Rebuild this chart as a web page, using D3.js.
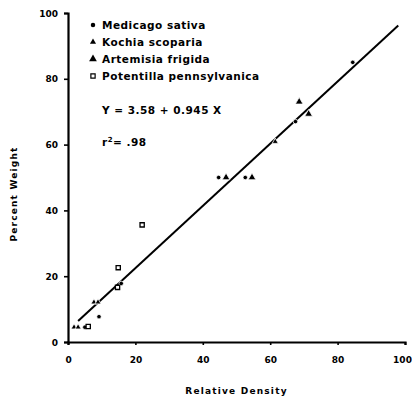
<!DOCTYPE html>
<html>
<head>
<meta charset="utf-8">
<script src="https://cdn.jsdelivr.net/npm/d3@7/dist/d3.min.js"></script>
<style>
  body { margin: 0; background: #fff; }
  svg { display: block; }
  text { font-family: "DejaVu Sans", sans-serif; fill: #000; }
  .tick-label { font-size: 9px; font-weight: bold; }
  .title { font-size: 9px; font-weight: bold; letter-spacing: 1.2px; }
  .legend { font-size: 10.5px; font-weight: bold; letter-spacing: 0.5px; }
</style>
</head>
<body>
<div id="chart"></div>
<script>
// species data (relative density, percent weight)
var medicago = [[84.5, 85], [67.5, 67], [44.7, 50], [52.6, 50], [15.8, 17.8], [9.2, 7.7], [5, 4.5]];
var kochia = [[1.8, 4.5], [3.0, 4.5], [7.7, 12.1], [8.9, 12.1], [61.5, 60.9]];
var artemisia = [[68.6, 73], [71.4, 69.3], [46.9, 50], [54.6, 50]];
var potentilla = [[22, 35.6], [14.9, 22.6], [14.7, 16.6], [6, 4.7]];

var xTicks = [0, 20, 40, 60, 80, 100];
var yTicks = [0, 20, 40, 60, 80, 100];

var fitIntercept = 3.58, fitSlope = 0.945;
var fitRange = [3, 98];

var legendNames = ['Medicago sativa', 'Kochia scoparia', 'Artemisia frigida', 'Potentilla pennsylvanica'];

var width = 412, height = 397;
var margin = { left: 68, top: 13, right: 7, bottom: 55 };

var svg = d3.select('#chart').append('svg')
	.attr('width', width)
	.attr('height', height);

var x = d3.scaleLinear().domain([0, 100]).range([margin.left, width - margin.right]);
var y = d3.scaleLinear().domain([0, 100]).range([height - margin.bottom, margin.top]);

// axes
var yAxis = svg.append('g')
	.attr('transform', 'translate(' + x(0) + ',0)')
	.call(d3.axisLeft(y).tickValues(yTicks).tickSize(4).tickPadding(6));
var xAxis = svg.append('g')
	.attr('transform', 'translate(0,' + y(0) + ')')
	.call(d3.axisBottom(x).tickValues(xTicks).tickSize(3).tickPadding(12));

[xAxis, yAxis].forEach(function(a) {
	a.select('.domain').attr('stroke', '#000').attr('stroke-width', 2.2);
	a.selectAll('.tick line').attr('stroke', '#000').attr('stroke-width', 1.6);
	a.selectAll('.tick text').attr('class', 'tick-label').attr('font-size', null).attr('font-family', null);
});
yAxis.selectAll('.tick text').attr('dy', '0.35em');
// last label sits at the page edge
xAxis.selectAll('.tick text').filter(function(d) { return d === 100; }).attr('x', -3);

// axis titles
svg.append('text')
	.attr('class', 'title')
	.attr('text-anchor', 'middle')
	.attr('letter-spacing', '2.6px')
	.attr('transform', 'translate(17,194) rotate(-90)')
	.text('Percent  Weight');
svg.append('text')
	.attr('class', 'title')
	.attr('text-anchor', 'middle')
	.attr('x', x(50))
	.attr('y', 394)
	.text('Relative  Density');

// regression line
svg.append('line')
	.attr('x1', x(fitRange[0]))
	.attr('y1', y(fitIntercept + fitSlope * fitRange[0]))
	.attr('x2', x(fitRange[1]))
	.attr('y2', y(fitIntercept + fitSlope * fitRange[1]))
	.attr('stroke', '#000')
	.attr('stroke-width', 2);

var symbols = [
	{ data: medicago, type: d3.symbolCircle, size: 16, fill: '#000' },
	{ data: kochia, type: d3.symbolTriangle, size: 16, fill: '#000' },
	{ data: artemisia, type: d3.symbolTriangle, size: 26, fill: '#000' },
	{ data: potentilla, type: d3.symbolSquare, size: 18, fill: '#fff' }
];

symbols.forEach(function(s) {
	svg.append('g').selectAll('path')
		.data(s.data)
		.enter()
		.append('path')
		.attr('d', d3.symbol().type(s.type).size(s.size))
		.attr('transform', function(d) { return 'translate(' + x(d[0]) + ',' + y(d[1]) + ')'; })
		.attr('fill', s.fill)
		.attr('stroke', s.fill === '#fff' ? '#000' : '#fff')
		.attr('stroke-width', s.fill === '#fff' ? 1.3 : 0.8);
});

// legend
var legend = svg.append('g');
legendNames.forEach(function(name, i) {
	var ly = 25 + i * 17;
	var s = symbols[i];
	legend.append('path')
		.attr('d', d3.symbol().type(s.type).size(s.size))
		.attr('transform', 'translate(93,' + ly + ')')
		.attr('fill', s.fill)
		.attr('stroke', s.fill === '#fff' ? '#000' : 'none')
		.attr('stroke-width', 1.2);
	legend.append('text')
		.attr('class', 'legend')
		.attr('x', 102)
		.attr('y', ly + 4)
		.text(name);
});

legend.append('text')
	.attr('class', 'legend')
	.attr('x', 102)
	.attr('y', 114)
	.text('Y = 3.58 + 0.945 X');

var r2 = legend.append('text')
	.attr('class', 'legend')
	.attr('x', 102)
	.attr('y', 146);
r2.append('tspan').text('r');
r2.append('tspan').attr('dy', -4).attr('font-size', '7px').text('2');
r2.append('tspan').attr('dy', 4).text('=  .98');
</script>
</body>
</html>
